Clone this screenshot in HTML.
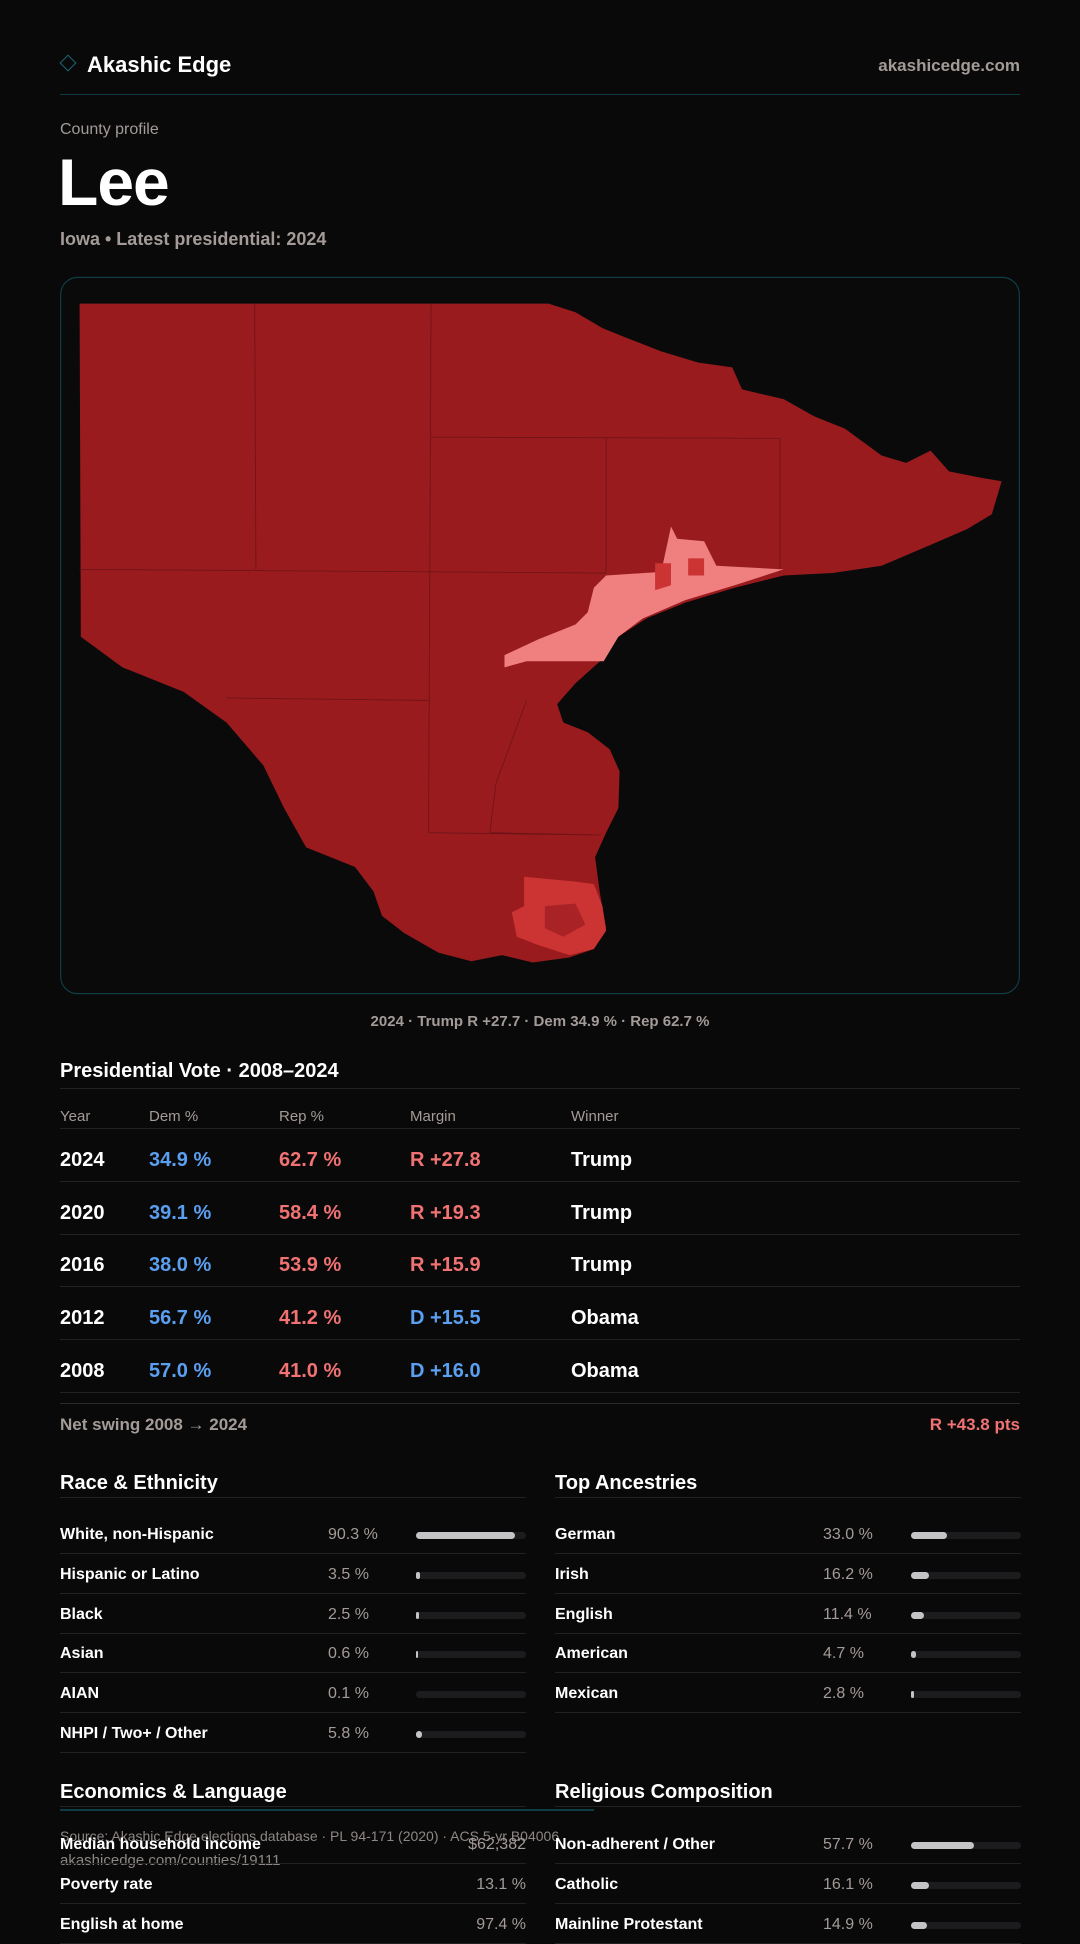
<!DOCTYPE html>
<html><head><meta charset="utf-8">
<style>
*{box-sizing:border-box;margin:0;padding:0}
body{width:1080px;height:1920px;background:#0a090a;color:#fff;font-family:"Liberation Sans",sans-serif;position:relative;overflow:hidden}
.a{position:absolute;white-space:nowrap}
.muted{color:#a39b97}
.line{position:absolute;height:1px;background:#232223}
.track{position:absolute;height:7px;border-radius:4px;background:#1c1c1e}
.fill{position:absolute;left:0;top:0;height:7px;border-radius:4px;background:#c4c4c6}
</style></head><body>
<svg class="a" style="left:0;top:0" width="1080" height="1920" viewBox="0 0 882 1568">
<rect x="49.5" y="226.5" width="783" height="585" rx="14" fill="#0b0a0b" stroke="#0f3c44" stroke-width="1"/>
<path fill="#991b1e" d="M65,248 L448,248 L470,255 L492,268 L512,276 L540,287 L570,296 L598,300 L606,318 L640,326 L665,340 L690,350 L720,372 L740,378 L760,368 L775,385 L800,390 L818,393 L810,420 L790,432 L760,445 L720,462 L680,468 L640,470 L600,480 L560,492 L528,505 L505,520 L490,540 L470,558 L455,575 L460,590 L480,598 L498,612 L506,630 L505,660 L495,680 L486,700 L490,730 L495,758 L485,775 L465,782 L435,786 L410,780 L385,785 L358,778 L330,762 L312,748 L305,728 L290,708 L250,692 L232,660 L215,625 L185,590 L150,565 L100,545 L66,520 Z"/>
<g stroke="#6e1417" stroke-width="0.7" fill="none">
<path d="M208,248 L209,465 M352,248 L350,680 M65,465 L495,468 M185,570 L350,572 M352,357 L637,358 M495,358 L495,468 M637,358 L637,468 M430,572 L405,640 L400,680 L490,682 M350,680 L490,682"/>
</g>
<path fill="#f08080" d="M495,470 L540,467 L548,430 L553,440 L575,442 L585,462 L640,465 L600,478 L560,490 L525,505 L505,520 L493,540 L470,540 L430,540 L412,545 L412,535 L440,522 L470,510 L480,500 L485,480 Z"/>
<path fill="#cc3333" d="M535,460 L548,460 L548,478 L535,482 Z M562,456 L575,456 L575,470 L562,470 Z"/>
<path fill="#cc3333" d="M428,716 L470,720 L485,722 L492,740 L495,760 L485,775 L465,780 L440,772 L422,765 L418,745 L428,740 Z"/>
<path fill="#a82226" d="M445,740 L470,738 L478,755 L460,765 L445,758 Z"/>
</svg>

<div class="a" style="left:62px;top:57px;width:12px;height:12px;border:1.5px solid #1b6a78;transform:rotate(45deg)"></div>
<div class="a" style="left:87px;top:52px;font-size:22px;font-weight:bold">Akashic Edge</div>
<div class="a muted" style="right:60px;top:56px;font-size:17px;font-weight:bold">akashicedge.com</div>
<div class="a" style="left:60px;top:94px;width:960px;height:1px;background:#0f3c44"></div>
<div class="a muted" style="left:60px;top:121px;font-size:16px">County profile</div>
<div class="a" style="left:58px;top:144px;font-size:66px;font-weight:bold;letter-spacing:-1px">Lee</div>
<div class="a muted" style="left:60px;top:229px;font-size:18px;font-weight:bold">Iowa • Latest presidential: 2024</div>
<div class="a muted" style="left:0;width:1080px;text-align:center;top:1013px;font-size:15px;font-weight:bold">2024 · Trump R +27.7 · Dem 34.9 % · Rep 62.7 %</div>

<div class="a" style="left:60px;top:1060px;font-size:20px;font-weight:bold">Presidential Vote · 2008–2024</div>
<div class="line" style="left:60px;width:960px;top:1088px"></div>

<div class="line" style="left:60px;width:960px;top:1403px;background:#2a2a2b"></div>
<div class="a muted" style="left:60px;top:1415px;font-size:17px;font-weight:bold">Net swing 2008 → 2024</div>
<div class="a" style="right:60px;top:1415px;font-size:17px;font-weight:bold;color:#f07272">R +43.8 pts</div>

<div class="a" style="left:60px;top:1809px;width:534px;height:2px;background:#0f3c44"></div>
<div class="a" style="left:60px;top:1828px;font-size:14px;color:#8e8784">Source: Akashic Edge elections database · PL 94-171 (2020) · ACS 5-yr B04006</div>
<div class="a" style="left:60px;top:1852px;font-size:15px;color:#8e8784">akashicedge.com/counties/19111</div>

<script>
const years=[2024,2020,2016,2012,2008];
const demPct=[34.9,39.1,38.0,56.7,57.0];
const repPct=[62.7,58.4,53.9,41.2,41.0];
const winners=["Trump","Trump","Trump","Obama","Obama"];
const raceLabels=["White, non-Hispanic","Hispanic or Latino","Black","Asian","AIAN","NHPI / Two+ / Other"];
const raceVals=[90.3,3.5,2.5,0.6,0.1,5.8];
const ancLabels=["German","Irish","English","American","Mexican"];
const ancVals=[33.0,16.2,11.4,4.7,2.8];
const econLabels=["Median household income","Poverty rate","English at home"];
const econVals=["$62,382","13.1 %","97.4 %"];
const relLabels=["Non-adherent / Other","Catholic","Mainline Protestant"];
const relVals=[57.7,16.1,14.9];

function div(parent,cls,style,text){const d=document.createElement('div');d.className=cls;d.style.cssText=style;if(text!==undefined)d.textContent=text;parent.appendChild(d);return d;}
const B=document.body;
const blue="#5b9ff0",red="#f07272";
const cols=[60,149,279,410,571];
const hdr=["Year","Dem %","Rep %","Margin","Winner"];
hdr.forEach((h,i)=>{const e=div(B,'a muted',`left:${cols[i]}px;top:1108px;font-size:15px`,h);

});
div(B,'line','left:60px;width:960px;top:1128px');
years.forEach((y,i)=>{
 const top=1149+i*52.7;
 const m=repPct[i]-demPct[i];
 const mt=(m>0?"R +":"D +")+Math.abs(m).toFixed(1);
 const vals=[String(y),demPct[i].toFixed(1)+" %",repPct[i].toFixed(1)+" %",mt,winners[i]];
 const colors=["#fff",blue,red,m>0?red:blue,"#fff"];
 vals.forEach((v,j)=>{const e=div(B,'a',`left:${cols[j]}px;top:${top}px;font-size:20px;font-weight:bold;color:${colors[j]}`,v);
 
 });
 div(B,'line',`left:60px;width:960px;top:${1181+i*52.7}px`);
});
function panel(x,title,titleTop,labels,vals,isPct,rowTop,name){
 const t=div(B,'a',`left:${x}px;top:${titleTop}px;font-size:20px;font-weight:bold`,title);
 
 
 div(B,'line',`left:${x}px;width:466px;top:${titleTop+25}px`);
 labels.forEach((lb,i)=>{
  const top=rowTop+i*39.8;
  const e=div(B,'a',`left:${x}px;top:${top}px;font-size:16px;font-weight:bold`,lb);
  
  
  if(isPct){
   const v=div(B,'a muted',`left:${x+268}px;top:${top}px;font-size:16px`,vals[i].toFixed(1)+" %");
   
   
   const tr=div(B,'track',`left:${x+356}px;top:${top+6}px;width:110px`);
   
   
   const w=Math.max(2,vals[i]/100*110);
   if(vals[i]>=0.3) div(tr,'fill',`width:${w}px`);
  } else {
   const v=div(B,'a muted',`left:${x}px;width:466px;text-align:right;top:${top}px;font-size:16px`,vals[i]);
   
   
  }
  div(B,'line',`left:${x}px;width:466px;top:${top+27}px`);
 });
}
panel(60,"Race & Ethnicity",1472,raceLabels,raceVals,true,1526,'race');
panel(555,"Top Ancestries",1472,ancLabels,ancVals,true,1526,'ancestry');
panel(60,"Economics & Language",1781,econLabels,econVals,false,1836,'econ');
panel(555,"Religious Composition",1781,relLabels,relVals,true,1836,'religion');
</script>
</body></html>
